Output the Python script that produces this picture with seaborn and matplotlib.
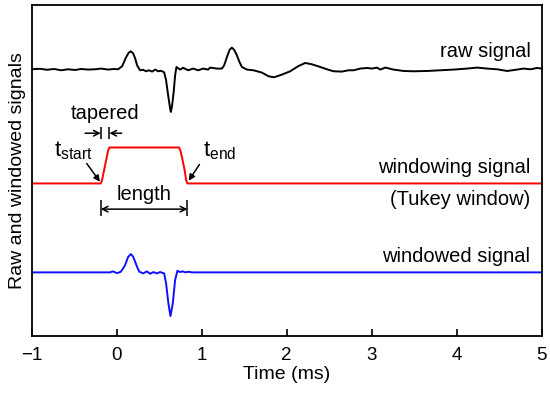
import matplotlib
matplotlib.use("Agg")
import matplotlib.pyplot as plt
import numpy as np
import pandas as pd
import seaborn as sns

# raw signal (time in ms, amplitude in arbitrary units)
raw_t = [-1.000, -0.900, -0.818, -0.735, -0.653, -0.571, -0.488, -0.418, -0.335, -0.253,
         -0.182, -0.100, -0.029, 0.018, 0.065, 0.112, 0.141, 0.167, 0.194, 0.218,
         0.241, 0.276, 0.312, 0.347, 0.382, 0.418, 0.453, 0.488, 0.524, 0.559,
         0.582, 0.606, 0.629, 0.638, 0.653, 0.671, 0.688, 0.704, 0.724, 0.747,
         0.782, 0.841, 0.900, 0.959, 1.018, 1.076, 1.100, 1.179, 1.238, 1.265,
         1.300, 1.329, 1.355, 1.382, 1.414, 1.441, 1.473, 1.532, 1.609, 1.708,
         1.786, 1.853, 1.944, 2.041, 2.139, 2.218, 2.296, 2.394, 2.473, 2.551,
         2.649, 2.727, 2.786, 2.865, 2.944, 3.002, 3.061, 3.100, 3.159, 3.256,
         3.374, 3.492, 3.649, 3.806, 3.962, 4.120, 4.238, 4.355, 4.473, 4.591,
         4.708, 4.786, 4.865, 4.944, 5.000]
raw_amp = [0, 0.5, -0.5, 0.3, -1.0, 0, -0.7, 0.3, -0.3, 0,
           0.7, -0.3, 0.3, 0, 3, 12, 16.5, 18, 16, 11,
           4, -1, -0.5, -2, -1, -2.3, -0.3, -2, -1.5, -3,
           -11, -26, -39, -42.7, -36, -23, -6, 2.3, 1, -0.3,
           1.5, -1, 0.7, -1, 0.7, -0.3, 1.7, 0.7, 0.7, 4,
           13, 19.5, 21.7, 19.5, 14, 8, 2.3, -0.3, -1, -3.3,
           -7, -8, -5.3, -2, 3.3, 6.3, 5, 2.3, 0, -2,
           -2.3, -1, -1, 0.7, 1.3, 0.7, 1.7, -0.3, 1.7, -0.3,
           -1.7, -2, -1.7, -1, -0.3, 0.7, 1.7, 0.7, 0, -1.7,
           -0.3, 0.7, 0, 1.3, 0.7]

# Tukey window
win_t = [-1.0, -0.186, -0.171, -0.147, -0.118, -0.100, -0.085,
         0.735, 0.751, 0.771, 0.800, 0.818, 0.833, 5.0]
win_amp = [0, 0, 3.3, 13.3, 25.3, 32.8, 36,
           36, 32.8, 25.3, 13.3, 3.3, 0, 0]

# windowed signal
wd_t = [-1.0, -0.076, -0.045, -0.018, 0.009, 0.049, 0.076, 0.100, 0.135, 0.167,
        0.194, 0.218, 0.247, 0.268, 0.315, 0.355, 0.394, 0.433, 0.473, 0.512,
        0.559, 0.582, 0.609, 0.633, 0.661, 0.688, 0.715, 0.747, 0.779, 0.806,
        0.845, 0.885, 5.0]
wd_amp = [0, 0, 1, 0, -0.7, 0.6, 3.8, 7.3, 15.3, 18.3,
          15.8, 10.6, 4.3, 0.6, -1, 1, -1.4, 0.3, -1, 0.3,
          -1, -11, -31, -43.7, -31, -7.7, 1.6, 0.3, 1, 0,
          0.6, 0, 0]

# vertical offsets of the three traces
off_raw, off_win, off_wd = 267, 152.7, 63.7

sns.set_style("ticks")
plt.rcParams["font.family"] = ["Liberation Sans", "DejaVu Sans"]
plt.rcParams["mathtext.fontset"] = "custom"
plt.rcParams["mathtext.rm"] = "Liberation Sans"
plt.rcParams["mathtext.it"] = "Liberation Sans"
plt.rcParams.update({"text.color": "black", "axes.labelcolor": "black",
                     "xtick.color": "black", "ytick.color": "black"})

fig = plt.figure(figsize=(5.5, 3.96), dpi=100)
ax = fig.add_axes([0.0573, 0.1515, 0.928, 0.835])

df_raw = pd.DataFrame({"t": raw_t, "y": np.array(raw_amp) + off_raw})
df_win = pd.DataFrame({"t": win_t, "y": np.array(win_amp) + off_win})
df_wd = pd.DataFrame({"t": wd_t, "y": np.array(wd_amp) + off_wd})

sns.lineplot(data=df_raw, x="t", y="y", color="black", lw=1.4, estimator=None, ax=ax)
sns.lineplot(data=df_win, x="t", y="y", color="#ff0000", lw=1.4, estimator=None, ax=ax)
sns.lineplot(data=df_wd, x="t", y="y", color="#1010ff", lw=1.4, estimator=None, ax=ax)

ax.set_xlim(-1, 5)
ax.set_ylim(0, 331)
ax.set_yticks([])
ax.set_xticks(range(-1, 6))
ax.set_xticklabels(["\u22121", "0", "1", "2", "3", "4", "5"])
ax.tick_params(axis="x", direction="in", length=5, width=1.2, labelsize=13.5, pad=8)
for s in ax.spines.values():
    s.set_linewidth(1.3)
    s.set_color("black")
ax.set_xlabel("Time (ms)", fontsize=14, labelpad=1)
ax.set_ylabel("Raw and windowed signals", fontsize=14, labelpad=4)

# right-hand labels
fs = 14.5
ax.text(4.865, 279.3, "raw signal", ha="right", va="baseline", fontsize=fs)
ax.text(4.865, 162.7, "windowing signal", ha="right", va="baseline", fontsize=fs)
ax.text(4.865, 131, "(Tukey window)", ha="right", va="baseline", fontsize=fs)
ax.text(4.865, 73.7, "windowed signal", ha="right", va="baseline", fontsize=fs)

# tapered
ax.text(-0.135, 217.7, "tapered", ha="center", va="baseline", fontsize=fs)
ap = dict(arrowstyle="->", color="black", lw=1.1, shrinkA=0, shrinkB=0, mutation_scale=10)
ax.annotate("", xy=(-0.186, 203), xytext=(-0.37, 203), arrowprops=ap)
ax.annotate("", xy=(-0.085, 203), xytext=(0.06, 203), arrowprops=ap)
ax.vlines([-0.186, -0.085], 197, 209, color="black", lw=1.1)

# length
ax.text(0.325, 136, "length", ha="center", va="baseline", fontsize=fs)
ap2 = dict(arrowstyle="<->", color="black", lw=1.1, shrinkA=0, shrinkB=0, mutation_scale=10)
ax.annotate("", xy=(0.833, 127), xytext=(-0.186, 127), arrowprops=ap2)
ax.vlines([-0.186, 0.833], 120, 136, color="black", lw=1.1)

# t_start / t_end
ap3 = dict(arrowstyle="-|>", color="black", lw=1.1, shrinkA=0, shrinkB=1, mutation_scale=9)
ax.text(-0.74, 179.3, r"$\mathregular{t_{start}}$", ha="left", va="baseline", fontsize=16)
ax.annotate("", xy=(-0.186, 153.3), xytext=(-0.351, 172.7), arrowprops=ap3)
ax.text(1.021, 179.3, r"$\mathregular{t_{end}}$", ha="left", va="baseline", fontsize=16)
ax.annotate("", xy=(0.838, 154.3), xytext=(0.974, 171.7), arrowprops=ap3)

plt.savefig("out.png", dpi=100)
plt.close()
